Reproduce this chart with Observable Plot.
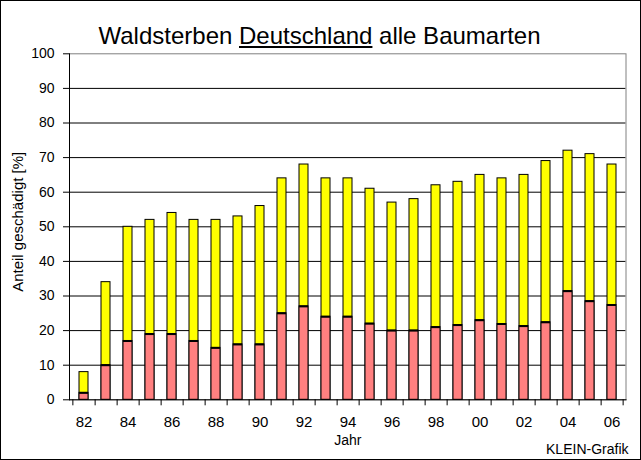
<!DOCTYPE html>
<html><head><meta charset="utf-8">
<script src="https://cdn.jsdelivr.net/npm/d3@7"></script>
<script src="https://cdn.jsdelivr.net/npm/@observablehq/plot@0.6"></script>
<style>
body{margin:0;background:#fff;}
#wrap{position:relative;width:641px;height:460px;overflow:hidden;font-family:"Liberation Sans",Arial,sans-serif;background:#fff;}
#chart{position:absolute;left:0;top:0;}
#title{position:absolute;left:0;top:24px;width:639px;text-align:center;font-size:24px;line-height:24px;color:#000;white-space:nowrap;}
#frame{position:absolute;left:0;top:0;width:641px;height:460px;box-sizing:border-box;border:1px solid #000;pointer-events:none;}
</style></head>
<body>
<div id="wrap">
  <div id="chart"></div>
  <div id="title">Waldsterben <u>Deutschland</u> alle Baumarten</div>
  <div id="frame"></div>
</div>
<script>
const years = d3.range(1982, 2007);
const totalDamage = [8,34,50,52,54,52,52,53,56,64,68,64,64,61,57,58,62,63,65,64,65,69,72,71,68];
const severeDamage = [2,10,17,19,19,17,15,16,16,25,27,24,24,22,20,20,21,21.6,23,21.9,21.3,22.4,31.4,28.5,27.4];
const xTickYears = [1982,1984,1986,1988,1990,1992,1994,1996,1998,2000,2002,2004,2006];
const xTickLabels = ["82","84","86","88","90","92","94","96","98","00","02","04","06"];
const yTicks = [0,10,20,30,40,50,60,70,80,90,100];
const yGrid = [10,20,30,40,50,60,70,80,90];

const data = years.map((y,i)=>({year:y,total:totalDamage[i],severe:severeDamage[i]}));
const W=641,H=460,mL=69,mR=15.5,mT=53.3,mB=60.7;
const step=(W-mL-mR)/years.length;
const font='"Liberation Sans", Arial, sans-serif';

const chart = Plot.plot({
  width:W,height:H,marginLeft:mL,marginRight:mR,marginTop:mT,marginBottom:mB,
  style:{fontFamily:font,background:"transparent",color:"black",overflow:"visible"},
  x:{type:"band",domain:years,paddingInner:0.6,paddingOuter:0.3,axis:null},
  y:{domain:[0,100],axis:null},
  marks:[
    Plot.ruleY(yGrid,{stroke:"black",strokeWidth:1}),
    Plot.frame({stroke:"#808080"}),
    Plot.barY(data,{x:"year",y:"total",fill:"#ffff00",stroke:"black",strokeWidth:1}),
    Plot.barY(data,{x:"year",y:"severe",fill:"#ff8080",stroke:"black",strokeWidth:1}),
    Plot.tickY(data,{x:"year",y:"severe",stroke:"black",strokeWidth:2}),
    Plot.frame({anchor:"left",stroke:"black"}),
    Plot.frame({anchor:"bottom",stroke:"black"}),
    Plot.axisY({ticks:yTicks,tickSize:6,tickPadding:9,fontSize:14,label:null,tickFormat:d=>String(d)}),
    Plot.axisX({ticks:years,tickSize:6,tickFormat:()=>"",dx:step/2,label:null}),
    Plot.axisX({ticks:[years[0]],tickSize:6,tickFormat:()=>"",dx:-step/2,label:null}),
    Plot.axisX({ticks:xTickYears,tickSize:0,tickPadding:17,fontSize:15,label:null,tickFormat:d=>xTickLabels[xTickYears.indexOf(d)]}),
    Plot.text(["Anteil geschädigt [%]"],{frameAnchor:"left",rotate:-90,dx:-51,dy:-5,fontSize:15,textAnchor:"middle"}),
    Plot.text(["Jahr"],{frameAnchor:"bottom",lineAnchor:"top",dy:35,fontSize:14}),
    Plot.text(["KLEIN-Grafik"],{frameAnchor:"bottom-right",lineAnchor:"top",textAnchor:"end",dx:2.5,dy:44.7,fontSize:14})
  ]
});
document.getElementById("chart").appendChild(chart);
</script>
</body></html>
